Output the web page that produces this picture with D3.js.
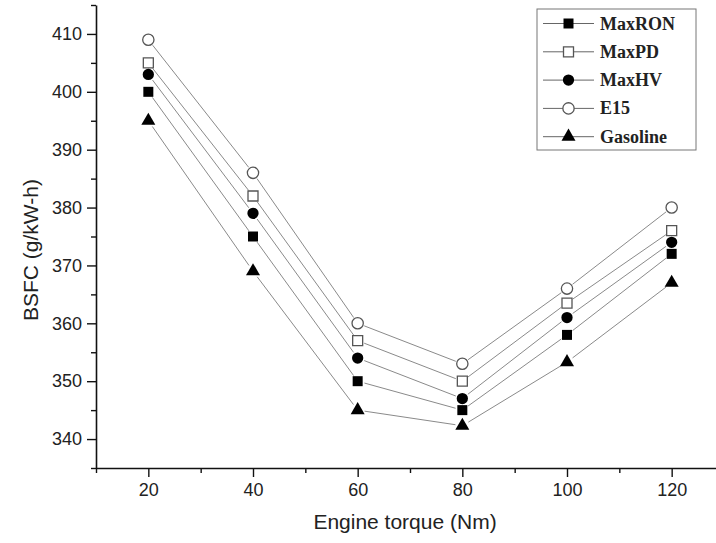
<!DOCTYPE html>
<html lang="en">

<head>
    <meta charset="UTF-8">
    <title>BSFC vs engine torque</title>
    <script src="https://cdn.jsdelivr.net/npm/d3@7"></script>
    <style>
        body { margin: 0; background: #fff; }
    </style>
</head>

<body>
    <div id="container"></div>

    <script>
        const width = 716;
        const height = 543;

        // data
        const torque = [20, 40, 60, 80, 100, 120];
        const maxRON = [400, 375, 350, 345, 358, 372];
        const maxPD = [405, 382, 357, 350, 363.5, 376];
        const maxHV = [403, 379, 354, 347, 361, 374];
        const e15 = [409, 386, 360, 353, 366, 380];
        const gasoline = [395, 369, 345, 342.3, 353.3, 367];

        const xMajor = [20, 40, 60, 80, 100, 120];
        const xMinor = [10, 30, 50, 70, 90, 110, 130];
        const yMajor = [340, 350, 360, 370, 380, 390, 400, 410];
        const yMinor = [335, 345, 355, 365, 375, 385, 395, 405, 415];

        const series = [
            { name: 'MaxRON', values: maxRON, symbol: d3.symbolSquare, size: 100, filled: true },
            { name: 'MaxPD', values: maxPD, symbol: d3.symbolSquare, size: 100, filled: false },
            { name: 'MaxHV', values: maxHV, symbol: d3.symbolCircle, size: 100, filled: true },
            { name: 'E15', values: e15, symbol: d3.symbolCircle, size: 100, filled: false },
            { name: 'Gasoline', values: gasoline, symbol: d3.symbolTriangle, size: 85, filled: true }
        ];

        const x = d3.scaleLinear().domain([10, 130]).range([96, 724]);
        const y = d3.scaleLinear().domain([335, 415]).range([468, 5]);

        const svg = d3.select('#container').append('svg')
            .attr('width', width)
            .attr('height', height);

        // axes
        const gx = svg.append('g').attr('transform', `translate(0, ${y(335)})`);
        gx.call(d3.axisBottom(x).tickValues(xMinor).tickSize(5).tickFormat('').tickSizeOuter(0));
        gx.call(g => g.select('.domain').remove());
        const gx2 = svg.append('g').attr('transform', `translate(0, ${y(335)})`)
            .call(d3.axisBottom(x).tickValues(xMajor).tickSize(9).tickSizeOuter(0).tickPadding(6));

        const gy = svg.append('g').attr('transform', `translate(${x(10)}, 0)`);
        gy.call(d3.axisLeft(y).tickValues(yMinor).tickSize(5).tickFormat('').tickSizeOuter(0));
        gy.call(g => g.select('.domain').remove());
        const gy2 = svg.append('g').attr('transform', `translate(${x(10)}, 0)`)
            .call(d3.axisLeft(y).tickValues(yMajor).tickSize(9).tickSizeOuter(0).tickPadding(5));

        svg.selectAll('.domain').attr('stroke', '#111').attr('stroke-width', 1.6);
        svg.selectAll('.tick line').attr('stroke', '#111').attr('stroke-width', 1.4);
        svg.selectAll('.tick text')
            .attr('font-family', 'Liberation Sans, Arial, sans-serif')
            .attr('font-size', 18)
            .attr('fill', '#222');

        // axis titles
        svg.append('text')
            .attr('x', 405)
            .attr('y', 529)
            .attr('text-anchor', 'middle')
            .attr('font-family', 'Liberation Sans, Arial, sans-serif')
            .attr('font-size', 21)
            .attr('fill', '#222')
            .text('Engine torque (Nm)');

        svg.append('text')
            .attr('transform', 'translate(38, 250) rotate(-90)')
            .attr('text-anchor', 'middle')
            .attr('font-family', 'Liberation Sans, Arial, sans-serif')
            .attr('font-size', 21)
            .attr('fill', '#222')
            .text('BSFC (g/kW-h)');

        // lines between markers, with a small gap at each marker
        const gap = 7;
        const lines = svg.append('g');
        series.forEach(s => {
            for (let i = 0; i < torque.length - 1; i++) {
                const x1 = x(torque[i]), y1 = y(s.values[i]);
                const x2 = x(torque[i + 1]), y2 = y(s.values[i + 1]);
                const len = Math.hypot(x2 - x1, y2 - y1);
                const ux = (x2 - x1) / len, uy = (y2 - y1) / len;
                lines.append('line')
                    .attr('x1', x1 + ux * gap).attr('y1', y1 + uy * gap)
                    .attr('x2', x2 - ux * gap).attr('y2', y2 - uy * gap)
                    .attr('stroke', '#8a8a8a')
                    .attr('stroke-width', 1);
            }
        });

        // markers
        series.forEach(s => {
            svg.append('g').selectAll('path').data(s.values).join('path')
                .attr('transform', (d, i) => `translate(${x(torque[i])}, ${y(d)})`)
                .attr('d', d3.symbol().type(s.symbol).size(s.size))
                .attr('fill', s.filled ? '#000' : '#fff')
                .attr('stroke', s.filled ? '#000' : '#555')
                .attr('stroke-width', s.filled ? 0 : 1.3);
        });

        // legend
        const legend = svg.append('g').attr('transform', 'translate(537, 9)');
        legend.append('rect')
            .attr('width', 159)
            .attr('height', 141)
            .attr('fill', '#fff')
            .attr('stroke', '#777')
            .attr('stroke-width', 1);

        const item = legend.selectAll('g.item').data(series).join('g')
            .attr('class', 'item')
            .attr('transform', (d, i) => `translate(0, ${14.5 + i * 28.3})`);

        item.append('line')
            .attr('x1', 6).attr('x2', 57)
            .attr('stroke', '#666').attr('stroke-width', 1);

        item.append('path')
            .attr('transform', 'translate(31.5, 0)')
            .attr('d', d => d3.symbol().type(d.symbol).size(d.size)())
            .attr('fill', d => d.filled ? '#000' : '#fff')
            .attr('stroke', d => d.filled ? '#000' : '#555')
            .attr('stroke-width', d => d.filled ? 0 : 1.3);

        item.append('text')
            .attr('x', 63)
            .attr('y', 6)
            .attr('font-family', 'Liberation Serif, Times New Roman, serif')
            .attr('font-weight', 'bold')
            .attr('font-size', 18)
            .attr('fill', '#222')
            .text(d => d.name);
    </script>
</body>

</html>
